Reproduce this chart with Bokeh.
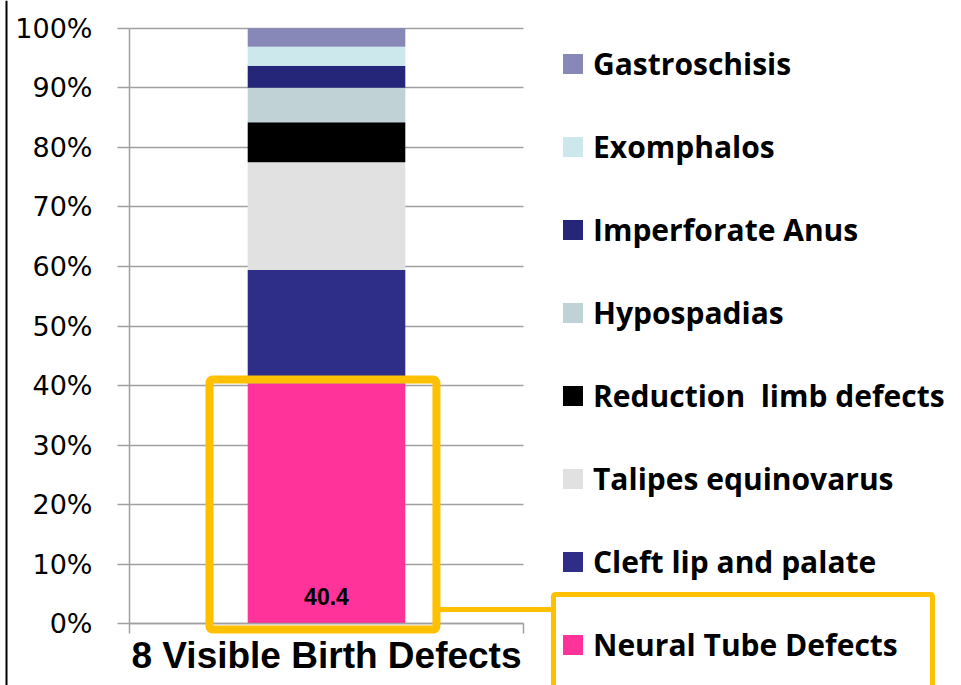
from bokeh.plotting import figure
from bokeh.models import (Range1d, FixedTicker, PrintfTickFormatter, Legend, LegendItem,
                          BoxAnnotation, Arrow, ColumnDataSource, Span)
from bokeh.embed import file_html
from bokeh.resources import INLINE
from bokeh.core.properties import value

# ---- data -------------------------------------------------------------
categories = ["8 Visible Birth Defects"]
defects = ["Neural Tube Defects", "Cleft lip and palate", "Talipes equinovarus",
           "Reduction  limb defects", "Hypospadias", "Imperforate Anus",
           "Exomphalos", "Gastroschisis"]
shares = [40.4, 19.0, 18.1, 6.7, 5.8, 3.7, 3.2, 3.1]
colors = ["#FF3399", "#2E2E88", "#E1E1E1", "#000000", "#C0D2D6", "#25267A",
          "#CCE8EC", "#8888B8"]
y_ticks = [0, 10, 20, 30, 40, 50, 60, 70, 80, 90, 100]

YELLOW = "#FFC000"
GRID = "#A0A0A0"

W, H = 961, 685
# frame covers the whole canvas; axes are pinned with fixed_location
p = figure(width=W, height=H,
           x_range=Range1d(-129 / 394, (W - 129) / 394),
           y_range=Range1d(-(H - 623.3) / 5.956, 100 + 27.7 / 5.956),
           output_backend="svg", toolbar_location=None, min_border=0)
p.outline_line_color = None
p.background_fill_color = "white"
p.border_fill_color = "white"

data = {"x": [i + 0.5 for i in range(len(categories))]}
for name, val in zip(defects, shares):
    data[name] = [val]
source = ColumnDataSource(data)

renderers = p.vbar_stack(stackers=defects, x="x", width=0.4, fill_color=colors,
                         line_color=None, source=source)

# value label inside the highlighted segment
p.text(x=[data["x"][0]], y=[4.6], text=[f"{shares[0]:.1f}"],
       text_font=value("Liberation Sans"), text_font_style="bold",
       text_font_size="23px", text_align="center", text_baseline="middle",
       text_color="black")

# grid
p.xgrid.visible = False
p.ygrid.grid_line_color = GRID
p.ygrid.grid_line_width = 1.5
p.ygrid.ticker = FixedTicker(ticks=y_ticks)
p.ygrid.cross_bounds = (0, len(categories))
p.ygrid.level = "underlay"

# y axis
p.yaxis.fixed_location = 0
p.yaxis.bounds = (0, 100)
p.yaxis.ticker = FixedTicker(ticks=y_ticks)
p.yaxis.formatter = PrintfTickFormatter(format="%d%%")
p.yaxis.major_label_text_font = "DejaVu Sans"
p.yaxis.major_label_text_font_size = "27px"
p.yaxis.major_label_text_color = "black"
p.yaxis.axis_line_color = GRID
p.yaxis.axis_line_width = 1.5
p.yaxis.major_tick_line_color = GRID
p.yaxis.major_tick_line_width = 1.5
p.yaxis.major_tick_out = 12
p.yaxis.major_tick_in = 0
p.yaxis.minor_tick_line_color = None
p.yaxis.major_label_standoff = 25

# x axis
p.xaxis.fixed_location = 0
p.xaxis.bounds = (0, len(categories))
p.xaxis.ticker = FixedTicker(ticks=[0, 1])
p.xaxis.major_label_text_font_size = "0px"
p.xaxis.major_label_text_color = None
p.xaxis.axis_line_color = GRID
p.xaxis.axis_line_width = 1.5
p.xaxis.major_tick_line_color = GRID
p.xaxis.major_tick_line_width = 1.5
p.xaxis.major_tick_out = 10
p.xaxis.major_tick_in = 0
p.xaxis.minor_tick_line_color = None
p.xaxis.axis_label = categories[0]
p.xaxis.axis_label_text_font = "Liberation Sans"
p.xaxis.axis_label_text_font_style = "bold"
p.xaxis.axis_label_text_font_size = "37px"
p.xaxis.axis_label_text_color = "black"
p.xaxis.axis_label_standoff = 1

# left frame line of the slide
p.add_layout(Span(location=(6 - 129) / 394, dimension="height",
                  line_color="black", line_width=2))

# highlight boxes
p.add_layout(BoxAnnotation(left=0.203, right=0.779, bottom=-0.96, top=41.0,
                           fill_alpha=0, line_color=YELLOW, line_alpha=1,
                           line_width=8, border_radius=3, level="overlay"))
p.add_layout(BoxAnnotation(left=1.076, right=2.038, bottom=-20, top=4.92,
                           fill_alpha=0, line_color=YELLOW, line_alpha=1,
                           line_width=5, border_radius=2, level="overlay"))
p.add_layout(Arrow(end=None, x_start=0.779, y_start=2.4, x_end=1.076, y_end=2.4,
                   line_color=YELLOW, line_width=5, level="overlay"))

# legend
items = [LegendItem(label=n, renderers=[r]) for n, r in zip(defects, renderers)][::-1]
legend = Legend(items=items, location=(560, 19), glyph_width=25, glyph_height=25,
                label_height=43, spacing=40, label_standoff=8, padding=0, margin=0,
                border_line_color=None, background_fill_alpha=0,
                label_text_font="Open Sans", label_text_font_style="bold",
                label_text_font_size="30px", label_text_color="black")
p.add_layout(legend, "center")

open("out.html", "w").write(file_html(p, INLINE))
